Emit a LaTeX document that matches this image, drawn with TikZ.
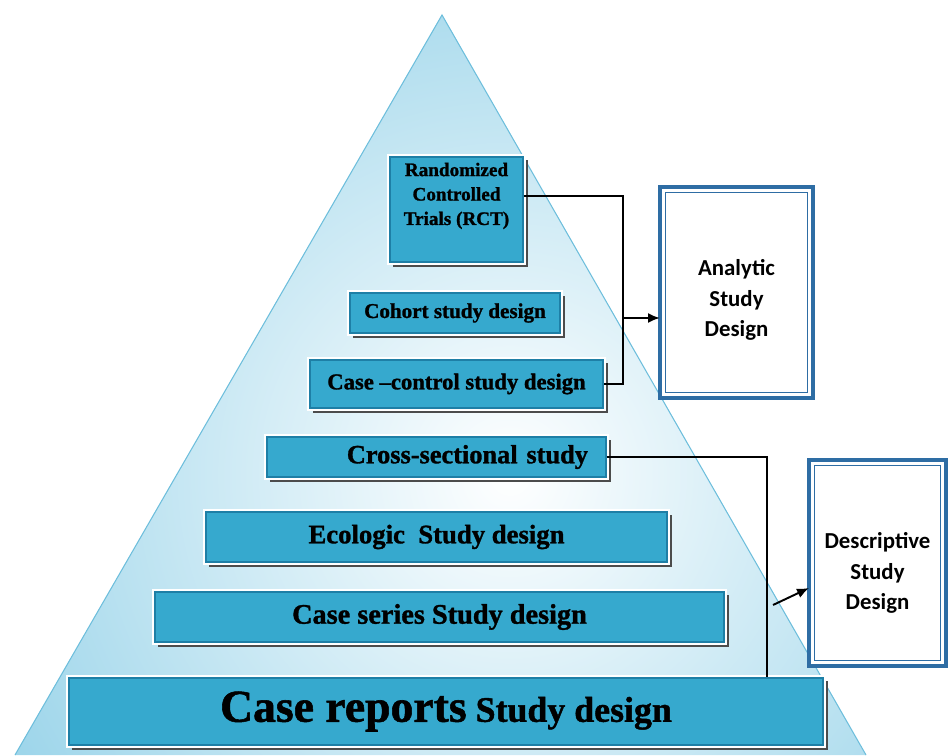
\documentclass[tikz,border=0pt]{standalone}
\usepackage{fontspec}
\usepackage{xcolor}
\usepackage{tikz}
\usetikzlibrary{arrows.meta,positioning}
\newfontfamily\stepfont[BoldFeatures={FakeBold=1.2}]{Liberation Serif}
\newfontfamily\typefont{Carlito}
\definecolor{pyrfill}{HTML}{93D1E8}
\definecolor{pyredge}{HTML}{6DBEDC}
\definecolor{boxfill}{HTML}{36A9CE}
\definecolor{boxedge}{HTML}{1E7FA6}
\definecolor{frame}{HTML}{2E6DA4}

\tikzset{
  stepbox/.style={draw=boxedge, line width=0.6pt, fill=boxfill, inner sep=0pt, align=center,
    preaction={draw=black!70, line width=1.2pt, transform canvas={shift={(2.2pt,-2.2pt)}}},
    preaction={draw=white, line width=3.2pt},
    font=\stepfont\bfseries\fontsize{#1}{#1}\selectfont},
  stepbox/.default=12,
  typebox/.style={draw=frame, line width=2.3pt, fill=white, outer sep=0pt},
  typetext/.style={align=center, inner sep=0pt, font=\typefont\bfseries\fontsize{13}{17.5}\selectfont},
  link/.style={line width=1.1pt},
  arrowlink/.style={-{Latex[length=2.4mm,width=2mm]}}
}

\begin{document}
\begin{tikzpicture}
\useasboundingbox (0,0) rectangle (19,15.1);
% ---------- the pyramid
\begin{scope}
  \clip (8.84,14.8) -- (0.3,0) -- (17.32,0) -- cycle;
  \shade[inner color=white, outer color=pyrfill] (10.2,5.6) circle (12.5);
\end{scope}
\draw[pyredge, line width=0.6pt] (0.3,0) -- (8.84,14.8) -- (17.32,0);

% ---------- the steps, top to bottom
\node[stepbox=10.9, minimum width=2.66cm, minimum height=2.1cm] (rct) at (9.13,10.91) {};
\node[font=\stepfont\bfseries\fontsize{10.9}{13.9}\selectfont, align=center, inner sep=0pt,
      below=0.12cm of rct.north] (rcttext) {Randomized\\Controlled\\Trials (RCT)};
\node[stepbox=12, minimum width=4.2cm, minimum height=0.8cm] (cohort) at (9.1,8.84) {Cohort study design};
\node[stepbox=12.9, minimum width=5.86cm, minimum height=0.96cm] (cc) at (9.13,7.42) {Case –control study design};
\node[stepbox=15, minimum height=0.8cm, text width=6.06cm, inner xsep=0.36cm, align=right]
     (cross) at (8.73,5.96) {Cross-sectional study};
\node[stepbox=15.2, minimum width=9.22cm, minimum height=1cm] (eco) at (8.73,4.36) {Ecologic~~Study design};
\node[stepbox=16.1, minimum width=11.38cm, minimum height=1cm] (series) at (8.79,2.76) {Case series Study design};
\node[stepbox=20.4, minimum width=15.08cm, minimum height=1.34cm] (reports) at (8.92,0.87)
     {{\fontsize{26}{26}\selectfont Case reports} Study design};

% ---------- the two groups
\node[typebox, minimum width=3.06cm, minimum height=4.22cm] (analytic) at (14.73,9.25) {};
\node[typebox, minimum width=2.74cm, minimum height=4.12cm] (descr) at (17.55,3.84) {};
\foreach \g in {analytic,descr}
  \draw[frame, line width=0.8pt] ([shift={(3pt,3pt)}]\g.south west) rectangle ([shift={(-3pt,-3pt)}]\g.north east);
\node[typetext] (antext) at ([yshift=-0.15cm]analytic) {Analytic\\Study\\Design};
\node[typetext] (detext) at ([yshift=-0.2cm]descr) {Descriptive\\Study\\Design};

% ---------- connectors
\coordinate (split) at (12.46,8.74);
\draw[link] (rct.east |- rcttext) -| (split) |- (cc.east);
\draw[link, arrowlink] (split) -- (split -| analytic.west);
\coordinate (bend) at (15.34,5.96);
\draw[link] (cross.east) -- (bend) -- (bend |- reports.north);
\coordinate (tail) at (15.46,3.0);
\draw[link, arrowlink] (tail) -- ([yshift=-0.5cm]descr.west);
\end{tikzpicture}
\end{document}
